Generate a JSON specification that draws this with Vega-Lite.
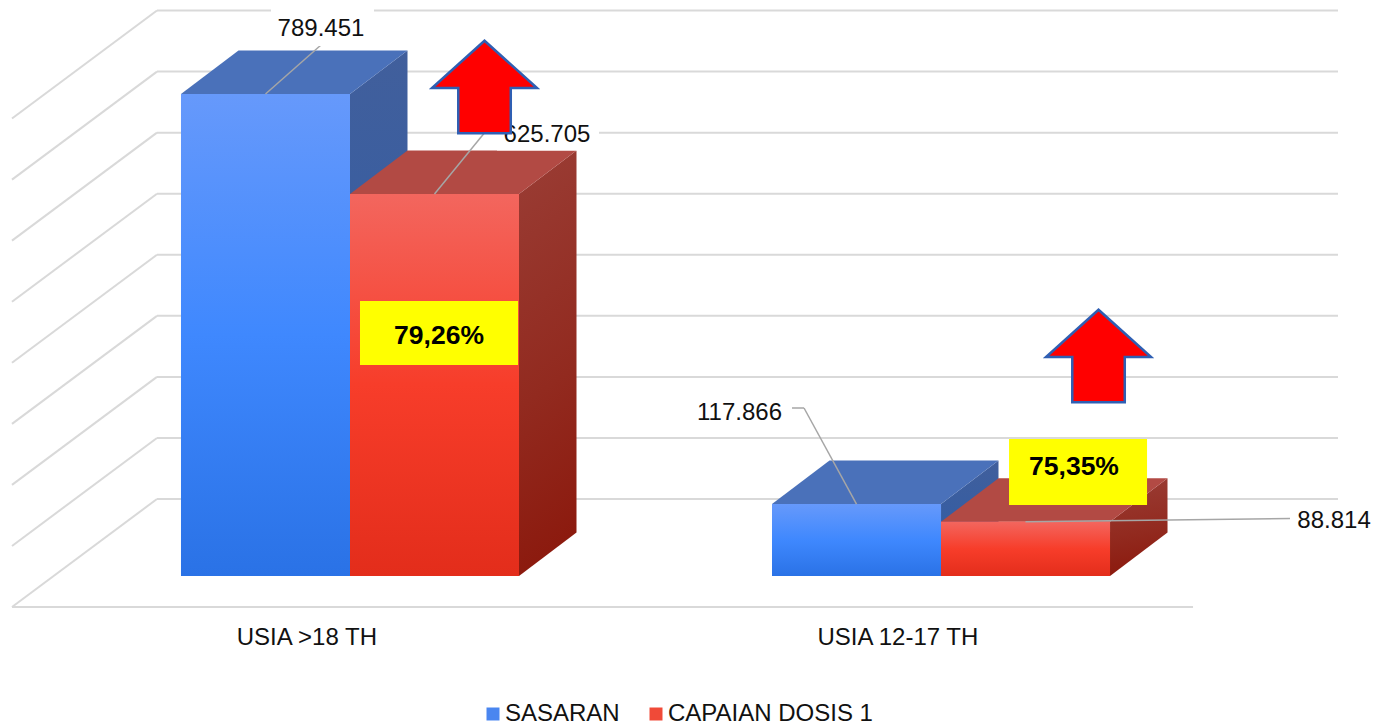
{
"$schema":"https://vega.github.io/schema/vega-lite/v6.json",
"width":1375,"height":728,
"autosize":{"type":"fit","contains":"padding"},
"padding":0,
"background":"#ffffff",
"config":{"view":{"stroke":null},"text":{"font":"Liberation Sans"}},
"datasets":{
"bars":[
{"category":"USIA >18 TH","series":"SASARAN","value":789451},
{"category":"USIA >18 TH","series":"CAPAIAN DOSIS 1","value":625705,"percent":"79,26%"},
{"category":"USIA 12-17 TH","series":"SASARAN","value":117866},
{"category":"USIA 12-17 TH","series":"CAPAIAN DOSIS 1","value":88814,"percent":"75,35%"}
],
"grid":[{"tick":0},{"tick":100000},{"tick":200000},{"tick":300000},{"tick":400000},{"tick":500000},{"tick":600000},{"tick":700000},{"tick":800000}]
},
"data":{"name":"bars"},
"transform":[
{"calculate":"datum.category=='USIA >18 TH'?0:1","as":"group"},
{"calculate":"datum.series=='SASARAN'","as":"blue"},
{"calculate":"0","as":"zero"},
{"calculate":"datum.group+(datum.blue?-0.28596:0)","as":"left"},
{"calculate":"datum.left+0.28596","as":"right"},
{"calculate":"datum.left+0.14298","as":"center"},
{"calculate":"replace(format(datum.value,','),',','.')","as":"label"},
{"calculate":"datum.group==0?(datum.blue?-0.0491:0.3333):(datum.blue?0.6591:1.665)","as":"labelX"},
{"calculate":"datum.group==0?(datum.blue?896000:722400):(datum.blue?267000:90100)","as":"labelY"},
{"calculate":"datum.group==0?(datum.blue?-0.0491:0.2453):(datum.blue?0.7682:1.5905)","as":"leaderX"},
{"calculate":"datum.group==0?(datum.blue?869709:746869):(datum.blue?275162:94178)","as":"leaderY"}
],
"resolve":{"scale":{"x":"shared","y":"shared"}},
"layer":[
{"data":{"name":"grid"},
 "transform":[{"calculate":"datum.tick+126116","as":"back"},{"calculate":"-0.3266","as":"xb"},{"calculate":"1.6717","as":"xe"}],
 "mark":{"type":"rule","color":"#D9D9D9","strokeWidth":2},
 "encoding":{"x":{"field":"xb","type":"quantitative","scale":{"domain":[-0.5922,1.7343],"nice":false,"zero":false},"axis":null},"x2":{"field":"xe"},"y":{"field":"back","type":"quantitative","scale":{"domain":[-248956,943413],"nice":false,"zero":false},"axis":null}}},
{"data":{"name":"grid"},
 "transform":[{"calculate":"datum.tick+126116","as":"back"},{"calculate":"datum.tick-50774","as":"front"},{"calculate":"-0.3266","as":"xb"},{"calculate":"-0.5719","as":"xf"}],
 "mark":{"type":"rule","color":"#D9D9D9","strokeWidth":2},
 "encoding":{"x":{"field":"xf","type":"quantitative","scale":{"domain":[-0.5922,1.7343],"nice":false,"zero":false},"axis":null},"x2":{"field":"xb"},"y":{"field":"front","type":"quantitative","scale":{"domain":[-248956,943413],"nice":false,"zero":false},"axis":null},"y2":{"field":"back"}}},
{"data":{"name":"grid"},
 "transform":[{"filter":"datum.tick==0"},{"calculate":"datum.tick-50774","as":"front"},{"calculate":"-0.5719","as":"xf"},{"calculate":"1.4264","as":"xe"}],
 "mark":{"type":"rule","color":"#D9D9D9","strokeWidth":2},
 "encoding":{"x":{"field":"xf","type":"quantitative","scale":{"domain":[-0.5922,1.7343],"nice":false,"zero":false},"axis":null},"x2":{"field":"xe"},"y":{"field":"front","type":"quantitative","scale":{"domain":[-248956,943413],"nice":false,"zero":false},"axis":null}}},
{"transform":[{"filter":"datum.blue"},{"calculate":"[0,1]","as":"t"},{"flatten":["t"],"as":["t"]},{"calculate":"datum.right+datum.t*0.09729","as":"sx"},{"calculate":"datum.value+datum.t*71247","as":"sy"},{"calculate":"datum.t*71247","as":"sy2"}],
 "mark":{"type":"area","orient":"vertical","color":{"gradient":"linear","x1":0,"y1":0,"x2":0,"y2":1,"stops":[{"offset":0,"color":"#415F9C"},{"offset":1,"color":"#2C5CA8"}]}},
 "encoding":{"detail":{"field":"category","type":"nominal"},"x":{"field":"sx","type":"quantitative","scale":{"domain":[-0.5922,1.7343],"nice":false,"zero":false},"axis":null},"y":{"field":"sy","type":"quantitative","scale":{"domain":[-248956,943413],"nice":false,"zero":false},"axis":null},"y2":{"field":"sy2"}}},
{"transform":[{"filter":"datum.blue"},{"calculate":"[0,1]","as":"t"},{"flatten":["t"],"as":["t"]},{"calculate":"datum.left+datum.t*0.09729","as":"tx"},{"calculate":"datum.right+datum.t*0.09729","as":"tx2"},{"calculate":"datum.value+datum.t*71247","as":"ty"}],
 "mark":{"type":"area","orient":"horizontal","color":"#4A71BA"},
 "encoding":{"detail":{"field":"category","type":"nominal"},"x":{"field":"tx","type":"quantitative","scale":{"domain":[-0.5922,1.7343],"nice":false,"zero":false},"axis":null},"x2":{"field":"tx2"},"y":{"field":"ty","type":"quantitative","scale":{"domain":[-248956,943413],"nice":false,"zero":false},"axis":null}}},
{"transform":[{"filter":"!datum.blue"},{"calculate":"[0,1]","as":"t"},{"flatten":["t"],"as":["t"]},{"calculate":"datum.right+datum.t*0.09729","as":"sx"},{"calculate":"datum.value+datum.t*71247","as":"sy"},{"calculate":"datum.t*71247","as":"sy2"}],
 "mark":{"type":"area","orient":"vertical","color":{"gradient":"linear","x1":0,"y1":0,"x2":0.1,"y2":1,"stops":[{"offset":0,"color":"#9A3D35"},{"offset":0.6,"color":"#922A1F"},{"offset":1,"color":"#8C1A0E"}]}},
 "encoding":{"detail":{"field":"category","type":"nominal"},"x":{"field":"sx","type":"quantitative","scale":{"domain":[-0.5922,1.7343],"nice":false,"zero":false},"axis":null},"y":{"field":"sy","type":"quantitative","scale":{"domain":[-248956,943413],"nice":false,"zero":false},"axis":null},"y2":{"field":"sy2"}}},
{"transform":[{"filter":"!datum.blue"},{"calculate":"[0,1]","as":"t"},{"flatten":["t"],"as":["t"]},{"calculate":"datum.left+datum.t*0.09729","as":"tx"},{"calculate":"datum.right+datum.t*0.09729","as":"tx2"},{"calculate":"datum.value+datum.t*71247","as":"ty"}],
 "mark":{"type":"area","orient":"horizontal","color":"#B24A44"},
 "encoding":{"detail":{"field":"category","type":"nominal"},"x":{"field":"tx","type":"quantitative","scale":{"domain":[-0.5922,1.7343],"nice":false,"zero":false},"axis":null},"x2":{"field":"tx2"},"y":{"field":"ty","type":"quantitative","scale":{"domain":[-248956,943413],"nice":false,"zero":false},"axis":null}}},
{"mark":{"type":"rect"},
 "encoding":{
  "x":{"field":"left","type":"quantitative","scale":{"domain":[-0.5922,1.7343],"nice":false,"zero":false},"axis":null},"x2":{"field":"right"},
  "y":{"field":"value","type":"quantitative","scale":{"domain":[-248956,943413],"nice":false,"zero":false},"axis":null},"y2":{"field":"zero"},
  "color":{"field":"series","type":"nominal","scale":{"domain":["SASARAN","CAPAIAN DOSIS 1"],"range":["#4A86F0","#F04A38"]},
  "legend":{"title":null,"orient":"none","legendX":481,"legendY":702,"direction":"horizontal","symbolType":"square","symbolSize":169,"symbolStrokeWidth":0,"labelFont":"Liberation Sans","labelFontSize":24,"labelColor":"#111111","labelOffset":0,"columnPadding":24,"labelLimit":300}}}},
{"transform":[{"filter":"datum.blue"}],
 "mark":{"type":"rect","color":{"gradient":"linear","x1":0,"y1":0,"x2":0,"y2":1,"stops":[{"offset":0,"color":"#6699FB"},{"offset":0.5,"color":"#3F88FE"},{"offset":1,"color":"#2A72E6"}]}},
 "encoding":{"x":{"field":"left","type":"quantitative","scale":{"domain":[-0.5922,1.7343],"nice":false,"zero":false},"axis":null},"x2":{"field":"right"},"y":{"field":"value","type":"quantitative","scale":{"domain":[-248956,943413],"nice":false,"zero":false},"axis":null},"y2":{"field":"zero"}}},
{"transform":[{"filter":"!datum.blue"}],
 "mark":{"type":"rect","color":{"gradient":"linear","x1":0,"y1":0,"x2":0,"y2":1,"stops":[{"offset":0,"color":"#F3665E"},{"offset":0.5,"color":"#F73D2A"},{"offset":1,"color":"#E32D1B"}]}},
 "encoding":{"x":{"field":"left","type":"quantitative","scale":{"domain":[-0.5922,1.7343],"nice":false,"zero":false},"axis":null},"x2":{"field":"right"},"y":{"field":"value","type":"quantitative","scale":{"domain":[-248956,943413],"nice":false,"zero":false},"axis":null},"y2":{"field":"zero"}}},
{"mark":{"type":"rule","color":"#A6A6A6","strokeWidth":1.5},
 "encoding":{"x":{"field":"center","type":"quantitative","scale":{"domain":[-0.5922,1.7343],"nice":false,"zero":false},"axis":null},"x2":{"field":"leaderX"},"y":{"field":"value","type":"quantitative","scale":{"domain":[-248956,943413],"nice":false,"zero":false},"axis":null},"y2":{"field":"leaderY"}}},
{"transform":[{"filter":"datum.group==1&&datum.blue"},{"calculate":"0.7479","as":"ex"}],
 "mark":{"type":"rule","color":"#A6A6A6","strokeWidth":1.5},
 "encoding":{"x":{"field":"ex","type":"quantitative","scale":{"domain":[-0.5922,1.7343],"nice":false,"zero":false},"axis":null},"x2":{"field":"leaderX"},"y":{"field":"leaderY","type":"quantitative","scale":{"domain":[-248956,943413],"nice":false,"zero":false},"axis":null}}},
{"transform":[{"filter":"datum.group==0"},
  {"calculate":"datum.blue?-0.1337:0.2487","as":"wx"},{"calculate":"datum.blue?0.0406:0.4213","as":"wx2"},
  {"calculate":"datum.blue?936862:750144","as":"wy"},{"calculate":"datum.blue?868071:696914","as":"wy2"}],
 "mark":{"type":"rect","color":"#ffffff"},
 "encoding":{"x":{"field":"wx","type":"quantitative","scale":{"domain":[-0.5922,1.7343],"nice":false,"zero":false},"axis":null},"x2":{"field":"wx2"},"y":{"field":"wy","type":"quantitative","scale":{"domain":[-248956,943413],"nice":false,"zero":false},"axis":null},"y2":{"field":"wy2"}}},
{"mark":{"type":"text","font":"Liberation Sans","fontSize":24,"color":"#111111","align":"center","baseline":"middle"},
 "encoding":{"x":{"field":"labelX","type":"quantitative","scale":{"domain":[-0.5922,1.7343],"nice":false,"zero":false},"axis":null},"y":{"field":"labelY","type":"quantitative","scale":{"domain":[-248956,943413],"nice":false,"zero":false},"axis":null},"text":{"field":"label","type":"nominal"}}},
{"transform":[{"filter":"datum.blue"},{"calculate":"datum.group-0.073","as":"cx"},{"calculate":"-101500","as":"cy"}],
 "mark":{"type":"text","font":"Liberation Sans","fontSize":24,"color":"#111111","align":"center","baseline":"middle"},
 "encoding":{"x":{"field":"cx","type":"quantitative","scale":{"domain":[-0.5922,1.7343],"nice":false,"zero":false},"axis":null},"y":{"field":"cy","type":"quantitative","scale":{"domain":[-248956,943413],"nice":false,"zero":false},"axis":null},"text":{"field":"category","type":"nominal"}}},
{"transform":[{"filter":"datum.percent"},
  {"calculate":"datum.group==0?0.0169:1.1151","as":"bx"},{"calculate":"datum.group==0?0.2843:1.3486","as":"bx2"},
  {"calculate":"datum.group==0?450414:224388","as":"by"},{"calculate":"datum.group==0?345591:116289","as":"by2"}],
 "mark":{"type":"rect","color":"#FFFF00"},
 "encoding":{"x":{"field":"bx","type":"quantitative","scale":{"domain":[-0.5922,1.7343],"nice":false,"zero":false},"axis":null},"x2":{"field":"bx2"},"y":{"field":"by","type":"quantitative","scale":{"domain":[-248956,943413],"nice":false,"zero":false},"axis":null},"y2":{"field":"by2"}}},
{"transform":[{"filter":"datum.percent"},
  {"calculate":"datum.group==0?0.1506:1.225","as":"px"},{"calculate":"datum.group==0?393089:178528","as":"py"}],
 "mark":{"type":"text","font":"Liberation Sans","fontSize":26.5,"fontWeight":"bold","color":"#000000","align":"center","baseline":"middle"},
 "encoding":{"x":{"field":"px","type":"quantitative","scale":{"domain":[-0.5922,1.7343],"nice":false,"zero":false},"axis":null},"y":{"field":"py","type":"quantitative","scale":{"domain":[-248956,943413],"nice":false,"zero":false},"axis":null},"text":{"field":"percent","type":"nominal"}}},
{"transform":[{"filter":"datum.percent"},
  {"calculate":"datum.group==0?0.2276:1.2665","as":"ax"},{"calculate":"datum.group==0?800918:360331","as":"ay"}],
 "mark":{"type":"point","filled":true,"fill":"#FF0000","fillOpacity":1,"opacity":1,"stroke":"#2F5FB3","strokeWidth":2.5,"size":11025,"shape":"M0,-0.88 L1,0.02 L0.5,0.02 L0.5,0.88 L-0.5,0.88 L-0.5,0.02 L-1,0.02 Z"},
 "encoding":{"x":{"field":"ax","type":"quantitative","scale":{"domain":[-0.5922,1.7343],"nice":false,"zero":false},"axis":null},"y":{"field":"ay","type":"quantitative","scale":{"domain":[-248956,943413],"nice":false,"zero":false},"axis":null}}}
]
}
